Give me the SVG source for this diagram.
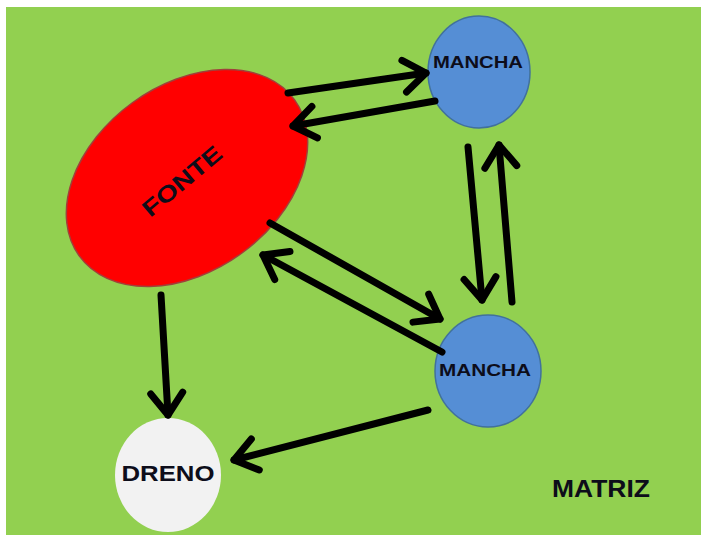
<svg xmlns="http://www.w3.org/2000/svg" width="701" height="535" viewBox="0 0 701 535">
<style>
.lbl{font-family:"Liberation Sans",Arial,sans-serif;font-weight:bold;fill:#0d0d1a;text-anchor:middle}
.arrow{stroke:#000;stroke-width:7;fill:none;stroke-linecap:round;marker-end:url(#vhead)}
.mancha{fill:#558ED5;stroke:#41719C;stroke-width:1.5}
</style>
<defs>
<marker id="vhead" markerUnits="userSpaceOnUse" viewBox="-30 -22 36 44" refX="0" refY="0" markerWidth="36" markerHeight="44" orient="auto" overflow="visible">
<path d="M-22,-16 L0,0 L-22,16" stroke="#000" stroke-width="7" fill="none" stroke-linecap="round" stroke-linejoin="round"/>
</marker>
</defs>
<rect x="0" y="0" width="701" height="535" fill="#ffffff"/>
<rect id="matriz-bg" x="6" y="7" width="695" height="528" fill="#92D050"/>
<g id="fonte">
<ellipse cx="187" cy="178" rx="133" ry="93" transform="rotate(-36 187 178)" fill="#FF0000" stroke="#A0403A" stroke-width="1.5"/>
<text class="lbl" x="182" y="189" font-size="23" textLength="96" lengthAdjust="spacingAndGlyphs" transform="rotate(-40 182 181)">FONTE</text>
</g>
<g id="mancha-top">
<ellipse class="mancha" cx="479" cy="72" rx="51" ry="56"/>
<text class="lbl" x="478" y="68" font-size="16" textLength="90" lengthAdjust="spacingAndGlyphs">MANCHA</text>
</g>
<g id="mancha-bottom">
<ellipse class="mancha" cx="488" cy="371" rx="53" ry="56"/>
<text class="lbl" x="485" y="376" font-size="16" textLength="92" lengthAdjust="spacingAndGlyphs">MANCHA</text>
</g>
<g id="dreno">
<ellipse cx="168" cy="475" rx="53" ry="57" fill="#F2F2F2"/>
<text class="lbl" x="168" y="481" font-size="22" textLength="93" lengthAdjust="spacingAndGlyphs">DRENO</text>
</g>
<g id="matriz">
<text class="lbl" x="601" y="497" font-size="23" textLength="98" lengthAdjust="spacingAndGlyphs">MATRIZ</text>
</g>
<g id="connectors">
<line class="arrow" x1="288" y1="93" x2="426" y2="73"/>
<line class="arrow" x1="435" y1="101" x2="293" y2="126"/>
<line class="arrow" x1="468" y1="147" x2="482" y2="300"/>
<line class="arrow" x1="512" y1="302" x2="499" y2="145"/>
<line class="arrow" x1="270" y1="223" x2="440" y2="319"/>
<line class="arrow" x1="442" y1="352" x2="263" y2="255"/>
<line class="arrow" x1="161" y1="295" x2="168" y2="415"/>
<line class="arrow" x1="428" y1="410" x2="234" y2="460"/>
</g>
</svg>
